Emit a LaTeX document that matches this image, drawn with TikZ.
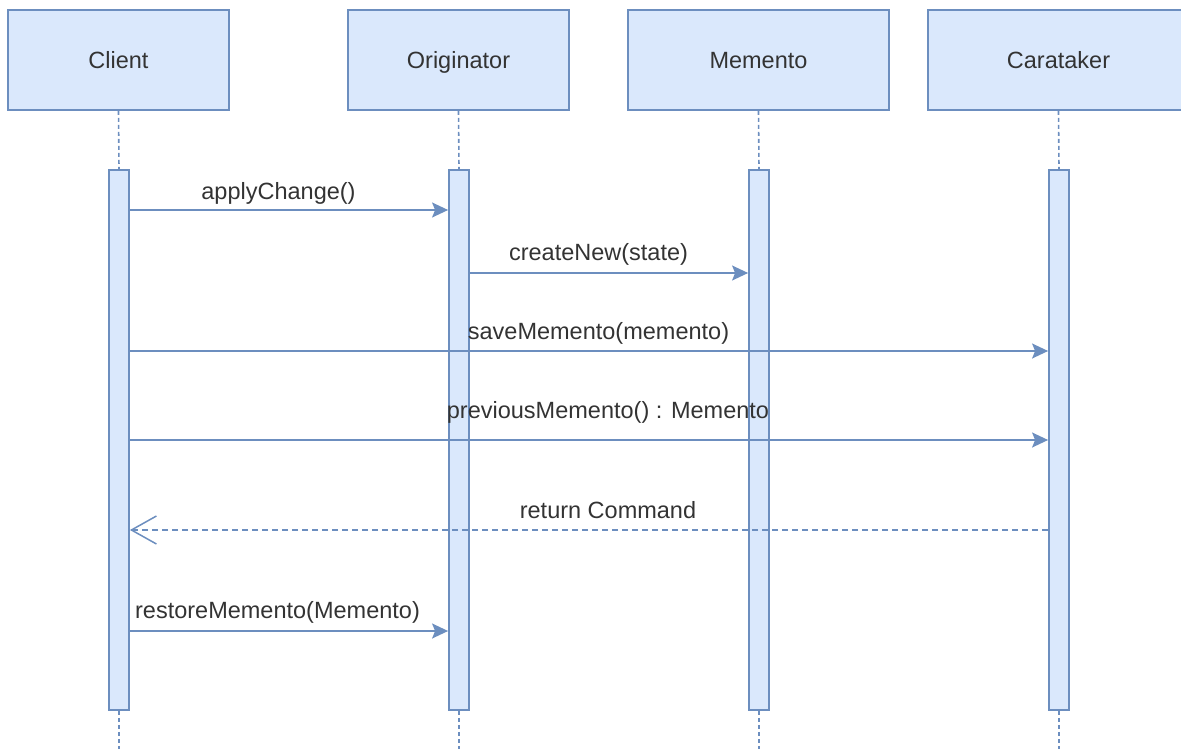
\documentclass[tikz,border=0pt]{standalone}
\usepackage{fontspec}
\setmainfont{Liberation Sans}
\usetikzlibrary{arrows.meta}
\definecolor{bfill}{HTML}{DAE8FC}
\definecolor{bdraw}{HTML}{6C8EBF}
\definecolor{txt}{HTML}{333333}
\begin{document}
\begin{tikzpicture}[x=1pt,y=-1pt,
  every node/.style={font=\fontsize{23.5}{28}\selectfont, text=txt},
  headbox/.style={draw=bdraw, fill=bfill, line width=1.8pt, minimum height=100pt, inner sep=0pt},
  bar/.style={draw=bdraw, fill=bfill, line width=1.8pt, minimum width=20pt, minimum height=540pt, inner sep=0pt},
  life/.style={draw=bdraw, line width=1.6pt, dash pattern=on 4pt off 3pt},
  msg/.style={draw=bdraw, line width=1.5pt, -{Stealth[length=16pt,width=15pt,inset=3pt]}},
  ret/.style={draw=bdraw, line width=1.5pt, dash pattern=on 6pt off 4pt, -{Straight Barb[length=25pt,width=28pt]}},
  lbl/.style={anchor=base, inner sep=0pt}]
\useasboundingbox (0,0) rectangle (1181,749);
\clip (0,0) rectangle (1181,749);
% heads
\node[headbox, minimum width=221pt] (client) at (118.5,60) {};
\node[headbox, minimum width=221pt] (orig) at (458.5,60) {};
\node[headbox, minimum width=261pt] (mem) at (758.5,60) {};
\node[headbox, minimum width=261pt] (care) at (1058.5,60) {};
\node[lbl] (tclient) at (118.5,69) {Client};
\node[lbl] (torig) at (458.5,69) {Originator};
\node[lbl] (tmem) at (758.5,69) {Memento};
\node[lbl] (tcare) at (1058.5,69) {Carataker};
% bars
\node[bar] (cbar) at (119,440) {};
\node[bar] (obar) at (459,440) {};
\node[bar] (mbar) at (759,440) {};
\node[bar] (kbar) at (1059,440) {};
% lifelines
\coordinate (bot) at (0,749);
\draw[life] (client.south) -- (cbar.north);
\draw[life] (orig.south) -- (obar.north);
\draw[life] (mem.south) -- (mbar.north);
\draw[life] (care.south) -- (kbar.north);
\draw[life] (cbar.south) -- (cbar.south |- bot);
\draw[life] (obar.south) -- (obar.south |- bot);
\draw[life] (mbar.south) -- (mbar.south |- bot);
\draw[life] (kbar.south) -- (kbar.south |- bot);
% message heights
\coordinate (m1) at (0,210);
\coordinate (m2) at (0,273);
\coordinate (m3) at (0,351);
\coordinate (m4) at (0,440);
\coordinate (m5) at (0,530);
\coordinate (m6) at (0,631);
\draw[msg] (cbar.east |- m1) -- (obar.west |- m1);
\draw[msg] (obar.east |- m2) -- (mbar.west |- m2);
\draw[msg] (cbar.east |- m3) -- (kbar.west |- m3);
\draw[msg] (cbar.east |- m4) -- (kbar.west |- m4);
\draw[ret] (kbar.west |- m5) -- (cbar.east |- m5);
\draw[msg] (cbar.east |- m6) -- (obar.west |- m6);
% labels
\node[lbl] (l1) at (278.5,200) {applyChange()};
\node[lbl] (l2) at (598.5,260) {createNew(state)};
\node[lbl] (l3) at (598.5,339) {saveMemento(memento)};
\node[lbl] (l4) at (608,418) {previousMemento() : Memento};
\node[lbl] (l5) at (608,518) {return Command};
\node[lbl] (l6) at (277.5,618) {restoreMemento(Memento)};
\end{tikzpicture}
\end{document}
